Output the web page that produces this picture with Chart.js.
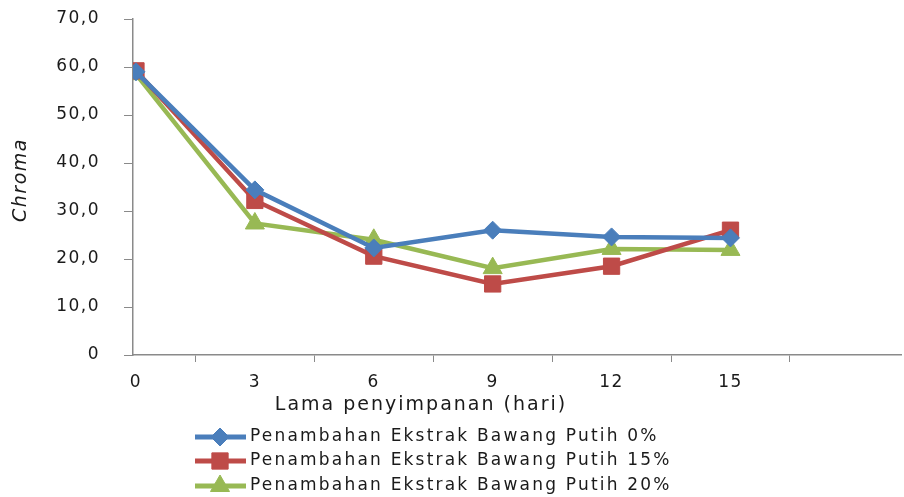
<!DOCTYPE html>
<html>
<head>
<meta charset="utf-8">
<script src="https://cdn.jsdelivr.net/npm/chart.js@4.4.1/dist/chart.umd.min.js"></script>
<style>
  html, body { margin: 0; padding: 0; background: #fff; overflow: hidden; }
  #wrap { width: 914px; height: 497px; position: relative; }
</style>
</head>
<body>
<div id="wrap"><canvas id="chart"></canvas></div>
<script>
// storage day (hari)
const days = [0, 3, 6, 9, 12, 15];
// chroma per garlic extract level
const chroma0 = [59.0, 34.4, 22.3, 26.0, 24.6, 24.4];
const chroma15 = [59.2, 32.2, 20.6, 14.8, 18.5, 26.0];
const chroma20 = [58.5, 27.4, 24.0, 18.1, 22.1, 21.9];
const seriesLabels = [
  "Penambahan Ekstrak Bawang Putih 0%",
  "Penambahan Ekstrak Bawang Putih 15%",
  "Penambahan Ekstrak Bawang Putih 20%",
];
const xTickValues = [0, 1.5, 3, 4.5, 6, 7.5, 9, 10.5, 12, 13.5, 15, 16.5];
const yTicks = [0, 10, 20, 30, 40, 50, 60, 70];

const colors = {
  blue: "#4A7EBB",
  red: "#BE4B48",
  green: "#98B954",
  axis: "#8a8a8a",
  text: "#1a1a1a",
};

const font = "'DejaVu Sans', Verdana, sans-serif";

function pts(values) {
  return days.map((d, i) => ({ x: d, y: values[i] }));
}

const spacing = {
  id: "spacing",
  beforeUpdate(chart) { chart.ctx.letterSpacing = "1.5px"; },
  beforeDraw(chart) { chart.ctx.letterSpacing = "1.5px"; },
};

const extras = {
  id: "extras",
  afterDraw(chart) {
    const ctx = chart.ctx;
    ctx.save();
    ctx.fillStyle = colors.text;
    // y title
    ctx.save();
    ctx.translate(21, 180);
    ctx.rotate(-Math.PI / 2);
    ctx.font = "italic 19px " + font;
    ctx.textAlign = "center";
    ctx.textBaseline = "middle";
    ctx.fillText("Chroma", 0, 0);
    ctx.restore();
    // x title
    ctx.font = "19px " + font;
    ctx.letterSpacing = "2px";
    ctx.textAlign = "center";
    ctx.textBaseline = "middle";
    ctx.fillText("Lama penyimpanan (hari)", 421, 405);
    // legend
    const rows = [437, 461, 486];
    chart.data.datasets.forEach((ds, i) => {
      const y = rows[i];
      ctx.strokeStyle = ds.borderColor;
      ctx.fillStyle = ds.backgroundColor;
      ctx.lineWidth = 5;
      ctx.beginPath();
      ctx.moveTo(195, y);
      ctx.lineTo(246, y);
      ctx.stroke();
      ctx.lineWidth = 1;
      Chart.helpers.drawPoint(ctx, { pointStyle: ds.pointStyle, radius: ds.pointRadius, borderWidth: 1, rotation: 0 }, 220, y);
      ctx.fillStyle = colors.text;
      ctx.font = "17px " + font;
      ctx.letterSpacing = "2.2px";
      ctx.textAlign = "left";
      ctx.fillText(ds.label, 250, y);
    });
    ctx.restore();
  },
};

new Chart(document.getElementById("chart"), {
  type: "line",
  data: {
    datasets: [
      {
        label: seriesLabels[0],
        data: pts(chroma0),
        borderColor: colors.blue,
        backgroundColor: colors.blue,
        pointStyle: "rectRot",
        pointRadius: 9,
      },
      {
        label: seriesLabels[1],
        data: pts(chroma15),
        borderColor: colors.red,
        backgroundColor: colors.red,
        pointStyle: "rect",
        pointRadius: 11.5,
      },
      {
        label: seriesLabels[2],
        data: pts(chroma20),
        borderColor: colors.green,
        backgroundColor: colors.green,
        pointStyle: "triangle",
        pointRadius: 11,
      },
    ].map((d) => ({ ...d, borderWidth: 4.5, pointBorderWidth: 1, tension: 0 })),
  },
  options: {
    responsive: true,
    maintainAspectRatio: false,
    animation: false,
    layout: { padding: { top: 19, left: 0, right: 0, bottom: 0 } },
    plugins: { legend: { display: false }, tooltip: { enabled: false } },
    scales: {
      x: {
        type: "linear",
        min: -0.075,
        max: 19.315,
        afterBuildTicks(scale) {
          scale.ticks = xTickValues.map((v) => ({ value: v }));
        },
        afterFit(scale) { scale.height = 142; },
        ticks: {
          autoSkip: false,
          maxRotation: 0,
          padding: 10,
          color: colors.text,
          font: { family: font, size: 17 },
          callback: (v) => (v % 3 === 0 ? String(v) : ""),
        },
        grid: {
          drawOnChartArea: false,
          tickLength: 7,
          tickColor: (ctx) => (ctx.tick && ctx.tick.value % 3 === 0 ? "rgba(0,0,0,0)" : colors.axis),
        },
        border: { color: colors.axis, width: 1.5 },
      },
      y: {
        min: 0,
        max: 70,
        afterBuildTicks(scale) {
          scale.ticks = yTicks.map((v) => ({ value: v }));
        },
        afterFit(scale) { scale.width = 133; scale.paddingTop = 0; scale.paddingBottom = 0; },
        ticks: {
          padding: 24,
          color: colors.text,
          font: { family: font, size: 17 },
          callback: (v) => (v === 0 ? "0" : v.toFixed(1).replace(".", ",")),
        },
        grid: { drawOnChartArea: false, tickLength: 9, tickColor: colors.axis },
        border: { color: colors.axis, width: 1.5 },
      },
    },
  },
  plugins: [spacing, extras],
});
</script>
</body>
</html>
